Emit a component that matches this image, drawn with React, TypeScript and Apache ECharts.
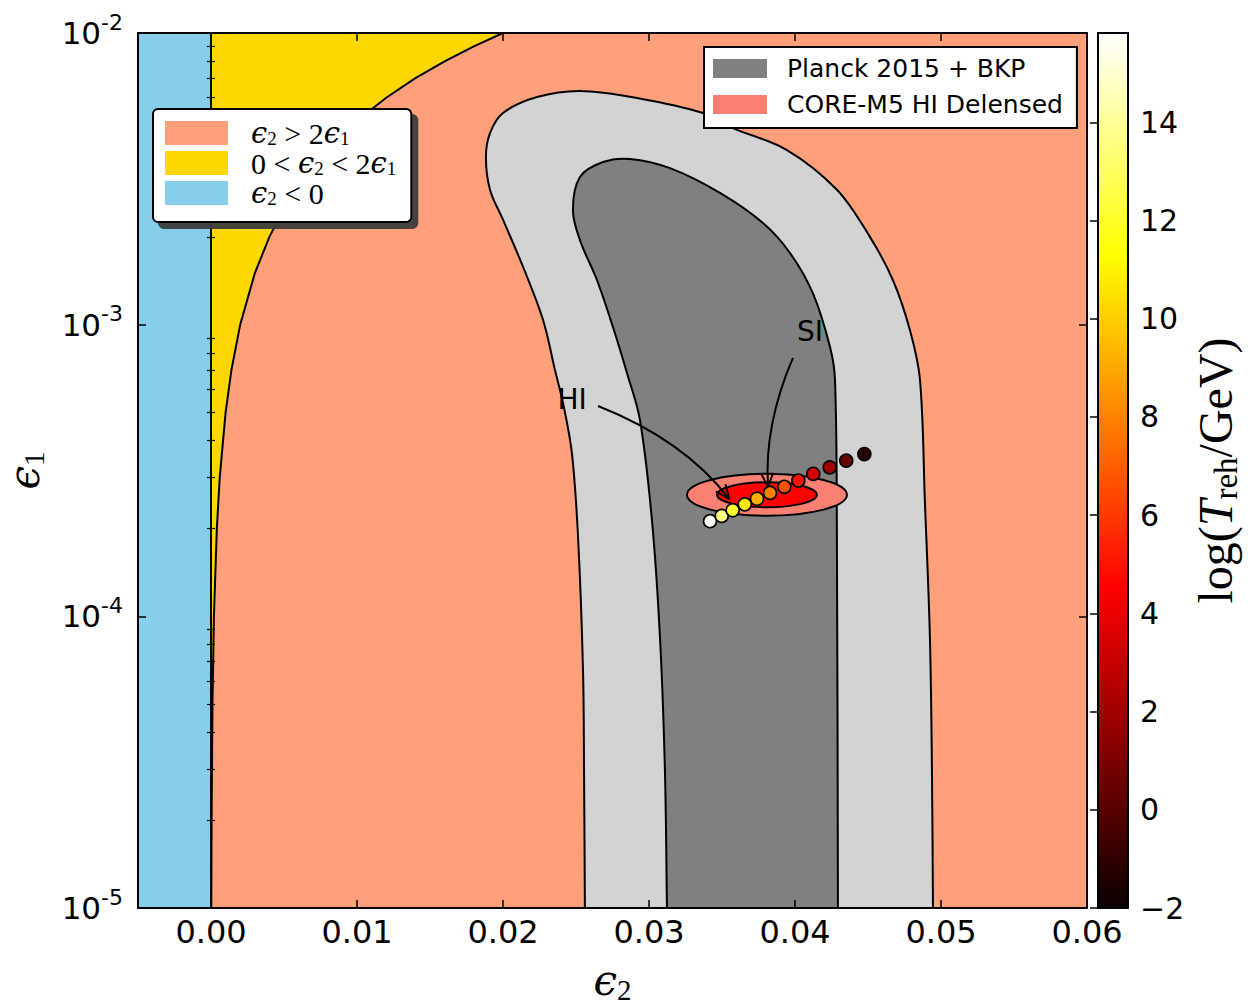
import React, { useEffect, useRef } from "react";
import * as echarts from "echarts";

// ---------- axes ----------
const X_RANGE = [-0.005, 0.06];
const Y_RANGE = [1e-5, 1e-2];
const CB_RANGE = [-2, 15.82];

const xTickValues = [0, 0.01, 0.02, 0.03, 0.04, 0.05, 0.06];
const yMajorTickValues = [1e-5, 1e-4, 1e-3, 1e-2];
const yMinorTickValues = [
  2e-5, 3e-5, 4e-5, 5e-5, 6e-5, 7e-5, 8e-5, 9e-5,
  2e-4, 3e-4, 4e-4, 5e-4, 6e-4, 7e-4, 8e-4, 9e-4,
  2e-3, 3e-3, 4e-3, 5e-3, 6e-3, 7e-3, 8e-3, 9e-3,
];
const cbTickValues = [-2, 0, 2, 4, 6, 8, 10, 12, 14];

// ---------- region boundary eps2 = 2 eps1 ----------
const boundaryEps2 = [0.02, 0.018, 0.016, 0.014, 0.012, 0.01, 0.008, 0.006, 0.005, 0.004, 0.003, 0.002, 0.0014, 0.001, 0.0006, 0.0004, 0.0002, 0.0001, 0.00004, 0.00002];
const boundaryEps1 = [0.01, 0.009, 0.008, 0.007, 0.006, 0.005, 0.004, 0.003, 0.0025, 0.002, 0.0015, 0.001, 0.0007, 0.0005, 0.0003, 0.0002, 0.0001, 0.00005, 0.00002, 0.00001];

// ---------- Planck 2015 + BKP contours (eps2, eps1) ----------
const planck95 = [
  [0.02561, 1.0e-5], [0.02561, 1.0e-5],
  [0.02555, 2.97e-5], [0.02548, 6.55e-5], [0.02514, 1.87e-4], [0.02472, 3.63e-4],
  [0.02411, 5.39e-4], [0.02356, 6.99e-4], [0.02274, 1.04e-3], [0.02137, 1.58e-3],
  [0.0200, 2.29e-3], [0.01911, 2.9e-3], [0.01883, 3.76e-3], [0.01911, 4.54e-3],
  [0.0200, 5.32e-3], [0.02233, 6.03e-3], [0.02527, 6.33e-3], [0.02918, 5.99e-3],
  [0.0337, 5.32e-3], [0.03575, 4.72e-3], [0.03945, 3.97e-3], [0.04287, 2.9e-3],
  [0.04513, 2.0e-3], [0.04671, 1.42e-3], [0.04787, 9.58e-4], [0.04856, 6.46e-4],
  [0.0489, 2.45e-4], [0.04924, 8.5e-5], [0.04938, 2.97e-5],
  [0.04945, 1.0e-5], [0.04945, 1.0e-5],
];
const planck68 = [
  [0.03123, 1.0e-5], [0.03123, 1.0e-5],
  [0.03109, 2.97e-5], [0.03075, 8.5e-5], [0.0302, 2.14e-4], [0.02938, 4.71e-4],
  [0.02849, 6.83e-4], [0.02753, 9.82e-4], [0.02644, 1.42e-3], [0.02527, 1.95e-3],
  [0.02479, 2.47e-3], [0.02527, 3.21e-3], [0.02685, 3.61e-3], [0.0287, 3.7e-3],
  [0.03144, 3.44e-3], [0.03486, 2.83e-3], [0.03781, 2.23e-3], [0.03966, 1.76e-3],
  [0.04123, 1.28e-3], [0.0424, 8.38e-4], [0.04274, 6.46e-4], [0.04287, 1.87e-4],
  [0.04294, 1.0e-5], [0.04294, 1.0e-5],
];

// ---------- CORE-M5 forecast ellipses ----------
const coreCenter = [0.03808, 2.61e-4];
const coreHalfWidth = [0.00548, 0.00342]; // outer, inner (in eps2)
const coreTop = [3.08e-4, 2.88e-4]; // outer, inner (eps1 at top edge)

// ---------- model points ----------
const modelEps2 = [0.03418, 0.03498, 0.03573, 0.03656, 0.0374, 0.03829, 0.03927, 0.04023, 0.04125, 0.04238, 0.04351, 0.04475];
const modelEps1 = [2.12e-4, 2.21e-4, 2.31e-4, 2.42e-4, 2.53e-4, 2.65e-4, 2.78e-4, 2.92e-4, 3.08e-4, 3.24e-4, 3.42e-4, 3.6e-4];
const modelLogTreh = [15.7, 13.6, 12.1, 10.7, 9.2, 7.9, 6.6, 5.0, 3.4, 1.9, 0.4, -1.3];

// ---------- annotations ----------
const annLabels = ["HI", "SI"];
const annTextPos = [[0.02473, 5.56e-4], [0.04103, 9.51e-4]];
const annStart = [[0.02651, 5.26e-4], [0.03986, 7.69e-4]];
const annCtrl = [[0.0324, 4.02e-4], [0.03788, 4.53e-4]];
const annEnd = [[0.03548, 2.53e-4], [0.03815, 2.78e-4]];

// ---------- names ----------
const NAME_GT = "ϵ₂ > 2ϵ₁";
const NAME_MID = "0 < ϵ₂ < 2ϵ₁";
const NAME_NEG = "ϵ₂ < 0";
const NAME_PLANCK = "Planck 2015 + BKP";
const NAME_CORE = "CORE-M5 HI Delensed";

const SANS = "'DejaVu Sans', sans-serif";
const SERIF = "'DejaVu Serif', 'Liberation Serif', serif";
const ROMAN = "'Liberation Serif', 'DejaVu Serif', serif";

const HOT_STOPS = [
  { offset: 0, color: "rgb(11,0,0)" },
  { offset: 0.365079, color: "rgb(255,0,0)" },
  { offset: 0.746032, color: "rgb(255,255,0)" },
  { offset: 1, color: "rgb(255,255,255)" },
];

function hotColor(v: number): string {
  let t = (v - CB_RANGE[0]) / (CB_RANGE[1] - CB_RANGE[0]);
  t = Math.max(0, Math.min(1, t));
  const a = 0.365079, b = 0.746032;
  const r = t < a ? 0.0416 + (1 - 0.0416) * (t / a) : 1;
  const g = t < a ? 0 : t < b ? (t - a) / (b - a) : 1;
  const bl = t < b ? 0 : (t - b) / (1 - b);
  return `rgb(${Math.round(r * 255)},${Math.round(g * 255)},${Math.round(bl * 255)})`;
}

function buildOption(): any {
  const majorTick = { show: true, inside: true, length: 8, lineStyle: { color: "#000", width: 1.5 } };
  const minorTick = { show: true, inside: true, length: 4, lineStyle: { color: "#000", width: 1.2 } };
  const frameLine = { show: true, onZero: false, lineStyle: { color: "#000", width: 2 } };

  const mathRich = {
    i: { fontFamily: SERIF, fontStyle: "italic", fontSize: 29, lineHeight: 24, color: "#000" },
    n: { fontFamily: ROMAN, fontSize: 30, lineHeight: 24, color: "#000" },
    s: { fontFamily: ROMAN, fontSize: 19, height: 14, lineHeight: 2, verticalAlign: "bottom", color: "#000" },
  };
  const legendFormat: Record<string, string> = {
    [NAME_GT]: "{i|ϵ}{s|2}{n| > 2}{i|ϵ}{s|1}",
    [NAME_MID]: "{n|0 < }{i|ϵ}{s|2}{n| < 2}{i|ϵ}{s|1}",
    [NAME_NEG]: "{i|ϵ}{s|2}{n| < 0}",
  };
  const axisNameRich = {
    i: { fontFamily: SERIF, fontStyle: "italic", fontSize: 42, lineHeight: 36, color: "#000" },
    s: { fontFamily: ROMAN, fontSize: 29, height: 16, lineHeight: 4, verticalAlign: "bottom", color: "#000" },
  };

  const yLog = (extra: any) => ({
    gridIndex: 0,
    type: "log",
    logBase: 10,
    min: Y_RANGE[0],
    max: Y_RANGE[1],
    splitLine: { show: false },
    z: 10,
    ...extra,
  });

  return {
    animation: false,
    backgroundColor: "#fff",
    grid: [
      { left: 138, top: 33, width: 949, height: 875, outerBoundsMode: "none", containLabel: false },
      { left: 1098, top: 33, width: 30, height: 875, outerBoundsMode: "none", containLabel: false },
    ],
    legend: [
      {
        data: [NAME_GT, NAME_MID, NAME_NEG],
        orient: "vertical",
        left: 153,
        top: 109,
        padding: [9, 15, 14, 12],
        itemWidth: 63,
        itemHeight: 24,
        itemGap: 0,
        icon: "rect",
        selectedMode: false,
        backgroundColor: "#fff",
        borderColor: "#000",
        borderWidth: 2,
        borderRadius: 5,
        shadowColor: "rgba(60,60,60,0.95)",
        shadowBlur: 0,
        shadowOffsetX: 6,
        shadowOffsetY: 6,
        itemStyle: { borderWidth: 0 },
        formatter: (name: string) => legendFormat[name] || name,
        textStyle: { padding: [0, 0, 0, 18], lineHeight: 24, fontSize: 24, rich: mathRich },
        z: 20,
      },
      {
        data: [NAME_PLANCK, NAME_CORE],
        orient: "vertical",
        left: 704,
        top: 47,
        padding: [9, 14, 11, 9],
        itemWidth: 54,
        itemHeight: 19,
        itemGap: 11,
        icon: "rect",
        selectedMode: false,
        backgroundColor: "#fff",
        borderColor: "#000",
        borderWidth: 2,
        borderRadius: 0,
        itemStyle: { borderWidth: 0 },
        textStyle: { fontFamily: SANS, fontSize: 25, color: "#000", padding: [0, 0, 0, 15], lineHeight: 25 },
        z: 20,
      },
    ],
    xAxis: [
      {
        gridIndex: 0,
        type: "value",
        position: "bottom",
        min: X_RANGE[0],
        max: X_RANGE[1],
        axisLine: frameLine,
        axisTick: { ...majorTick, customValues: xTickValues },
        axisLabel: {
          customValues: xTickValues,
          formatter: (v: number) => v.toFixed(2),
          fontFamily: SANS,
          fontSize: 32,
          color: "#000",
          margin: 8,
        },
        splitLine: { show: false },
        name: "{i|ϵ}{s|2}",
        nameLocation: "middle",
        nameGap: 54,
        nameTextStyle: { rich: axisNameRich },
        z: 10,
      },
      {
        gridIndex: 0,
        type: "value",
        position: "top",
        min: X_RANGE[0],
        max: X_RANGE[1],
        axisLine: frameLine,
        axisTick: { ...majorTick, customValues: xTickValues },
        axisLabel: { show: false },
        splitLine: { show: false },
        z: 10,
      },
      { gridIndex: 1, type: "value", min: 0, max: 1, show: false },
    ],
    yAxis: [
      yLog({
        position: "left",
        axisLine: frameLine,
        axisTick: { ...majorTick, customValues: yMajorTickValues },
        axisLabel: {
          customValues: yMajorTickValues,
          formatter: (v: number) => `{b|10}{e|${Math.round(Math.log10(v))}}`,
          margin: 15,
          rich: {
            b: { fontFamily: SANS, fontSize: 31, lineHeight: 36, color: "#000" },
            e: { fontFamily: SANS, fontSize: 22, height: 14, lineHeight: 14, verticalAlign: "top", color: "#000" },
          },
        },
        name: "{i|ϵ}{s|1}",
        nameLocation: "middle",
        nameRotate: 90,
        nameGap: 96,
        nameTextStyle: { rich: axisNameRich },
      }),
      yLog({
        position: "left",
        axisLine: { show: false },
        axisTick: { ...minorTick, customValues: yMinorTickValues },
        axisLabel: { show: false },
      }),
      yLog({
        position: "right",
        axisLine: frameLine,
        axisTick: { ...majorTick, customValues: yMajorTickValues },
        axisLabel: { show: false },
      }),
      yLog({
        position: "right",
        axisLine: { show: false },
        axisTick: { ...minorTick, customValues: yMinorTickValues },
        axisLabel: { show: false },
      }),
      {
        gridIndex: 1,
        type: "value",
        position: "right",
        min: CB_RANGE[0],
        max: CB_RANGE[1],
        axisLine: { show: false },
        axisTick: { ...majorTick, customValues: cbTickValues },
        axisLabel: {
          customValues: cbTickValues,
          formatter: (v: number) => (v < 0 ? "\u2212" + Math.abs(v) : String(v)),
          fontFamily: SANS,
          fontSize: 30,
          color: "#000",
          margin: 12,
        },
        splitLine: { show: false },
        name: "{n|log(}{i|T}{s|reh}{n|/GeV)}",
        nameLocation: "middle",
        nameRotate: 90,
        nameGap: 66,
        nameTextStyle: {
          rich: {
            n: { fontFamily: ROMAN, fontSize: 48, lineHeight: 42, color: "#000" },
            i: { fontFamily: ROMAN, fontStyle: "italic", fontSize: 48, lineHeight: 42, color: "#000" },
            s: { fontFamily: ROMAN, fontSize: 33, height: 20, lineHeight: 12, verticalAlign: "bottom", color: "#000" },
          },
        },
        z: 10,
      },
    ],
    series: [
      {
        name: NAME_GT,
        type: "custom",
        xAxisIndex: 0,
        yAxisIndex: 0,
        clip: true,
        z: 1,
        itemStyle: { color: "#FFA07A", borderWidth: 0 },
        data: [[0.03, 1e-3]],
        renderItem: (_p: any, api: any) => {
          const a = api.coord([X_RANGE[0], Y_RANGE[1]]);
          const b = api.coord([X_RANGE[1], Y_RANGE[0]]);
          return {
            type: "rect",
            shape: { x: a[0], y: a[1], width: b[0] - a[0], height: b[1] - a[1] },
            style: { fill: "#FFA07A" },
          };
        },
      },
      {
        name: NAME_MID,
        type: "custom",
        xAxisIndex: 0,
        yAxisIndex: 0,
        clip: true,
        z: 2,
        itemStyle: { color: "#FFD700", borderWidth: 0 },
        data: [[0.03, 1e-3]],
        renderItem: (_p: any, api: any) => {
          const curve = boundaryEps2.map((x, i) => api.coord([x, boundaryEps1[i]]));
          const poly = [api.coord([0, Y_RANGE[0]]), api.coord([0, Y_RANGE[1]]), ...curve];
          return {
            type: "group",
            children: [
              { type: "polygon", shape: { points: poly }, style: { fill: "#FFD700" } },
              { type: "polyline", shape: { points: curve }, style: { fill: null, stroke: "#000", lineWidth: 2 } },
            ],
          };
        },
      },
      {
        name: NAME_NEG,
        type: "custom",
        xAxisIndex: 0,
        yAxisIndex: 0,
        clip: true,
        z: 3,
        itemStyle: { color: "#87CEEB", borderWidth: 0 },
        data: [[0.03, 1e-3]],
        renderItem: (_p: any, api: any) => {
          const a = api.coord([X_RANGE[0], Y_RANGE[1]]);
          const b = api.coord([0, Y_RANGE[0]]);
          return {
            type: "group",
            children: [
              {
                type: "rect",
                shape: { x: a[0], y: a[1], width: b[0] - a[0], height: b[1] - a[1] },
                style: { fill: "#87CEEB" },
              },
              {
                type: "line",
                shape: { x1: b[0], y1: a[1], x2: b[0], y2: b[1] },
                style: { stroke: "#000", lineWidth: 2 },
              },
            ],
          };
        },
      },
      {
        name: NAME_PLANCK,
        type: "custom",
        xAxisIndex: 0,
        yAxisIndex: 0,
        clip: true,
        z: 4,
        itemStyle: { color: "#808080", borderWidth: 0 },
        data: [[0.03, 1e-3]],
        renderItem: (_p: any, api: any) => {
          const outer = planck95.map((p) => api.coord(p));
          const inner = planck68.map((p) => api.coord(p));
          return {
            type: "group",
            children: [
              { type: "polygon", shape: { points: outer, smooth: 0.35 }, style: { fill: "#D3D3D3", stroke: "#000", lineWidth: 2 } },
              { type: "polygon", shape: { points: inner, smooth: 0.35 }, style: { fill: "#808080", stroke: "#000", lineWidth: 2 } },
            ],
          };
        },
      },
      {
        name: NAME_CORE,
        type: "custom",
        xAxisIndex: 0,
        yAxisIndex: 0,
        clip: true,
        z: 5,
        itemStyle: { color: "#FA8072", borderWidth: 0 },
        data: [[0.03, 1e-3]],
        renderItem: (_p: any, api: any) => {
          const c = api.coord(coreCenter);
          const fills = ["#FA8072", "#FF0000"];
          return {
            type: "group",
            children: coreHalfWidth.map((hw, k) => {
              const e = api.coord([coreCenter[0] + hw, coreCenter[1]]);
              const t = api.coord([coreCenter[0], coreTop[k]]);
              return {
                type: "ellipse",
                shape: { cx: c[0], cy: c[1], rx: e[0] - c[0], ry: c[1] - t[1] },
                style: { fill: fills[k], stroke: "#000", lineWidth: 2 },
              };
            }),
          };
        },
      },
      {
        type: "custom",
        xAxisIndex: 0,
        yAxisIndex: 0,
        z: 6,
        data: [[0.03, 1e-3]],
        renderItem: (_p: any, api: any) => {
          const children: any[] = [];
          annLabels.forEach((lab, k) => {
            const tp = api.coord(annTextPos[k]);
            const s = api.coord(annStart[k]);
            const c = api.coord(annCtrl[k]);
            const e = api.coord(annEnd[k]);
            children.push({
              type: "text",
              x: tp[0],
              y: tp[1],
              style: { text: lab, fontFamily: SANS, fontSize: 28, fill: "#000", align: "center", verticalAlign: "middle" },
            });
            children.push({
              type: "bezierCurve",
              shape: { x1: s[0], y1: s[1], cpx1: c[0], cpy1: c[1], x2: e[0], y2: e[1] },
              style: { fill: null, stroke: "#000", lineWidth: 2 },
            });
            const dx = c[0] - e[0], dy = c[1] - e[1];
            const len = Math.hypot(dx, dy) || 1;
            const ux = dx / len, uy = dy / len;
            const L = 15, ang = (24 * Math.PI) / 180;
            const rot = (x: number, y: number, a: number) => [x * Math.cos(a) - y * Math.sin(a), x * Math.sin(a) + y * Math.cos(a)];
            const r1 = rot(ux, uy, ang), r2 = rot(ux, uy, -ang);
            children.push({
              type: "polyline",
              shape: { points: [[e[0] + r1[0] * L, e[1] + r1[1] * L], [e[0], e[1]], [e[0] + r2[0] * L, e[1] + r2[1] * L]] },
              style: { fill: null, stroke: "#000", lineWidth: 2 },
            });
          });
          return { type: "group", children };
        },
      },
      {
        type: "scatter",
        xAxisIndex: 0,
        yAxisIndex: 0,
        z: 8,
        symbol: "circle",
        symbolSize: 13,
        data: modelEps2.map((x, i) => [x, modelEps1[i], modelLogTreh[i]]),
        itemStyle: {
          color: (p: any) => hotColor(p.value[2]),
          borderColor: "#000",
          borderWidth: 1.6,
          opacity: 1,
        },
      },
      {
        type: "custom",
        xAxisIndex: 2,
        yAxisIndex: 4,
        z: 2,
        data: [[0.5, 5]],
        renderItem: (_p: any, api: any) => {
          const a = api.coord([0, CB_RANGE[1]]);
          const b = api.coord([1, CB_RANGE[0]]);
          return {
            type: "rect",
            shape: { x: a[0], y: a[1], width: b[0] - a[0], height: b[1] - a[1] },
            style: {
              fill: { type: "linear", x: 0, y: 1, x2: 0, y2: 0, colorStops: HOT_STOPS },
              stroke: "#000",
              lineWidth: 2,
            },
          };
        },
      },
    ],
  };
}

export default function App() {
  const ref = useRef<HTMLDivElement>(null);
  useEffect(() => {
    if (!ref.current) return;
    const chart = echarts.init(ref.current, null, { renderer: "svg" });
    chart.setOption(buildOption());
    return () => chart.dispose();
  }, []);
  return (
    <div
      ref={ref}
      style={{ position: "absolute", left: 0, top: 0, width: 1248, height: 1006, background: "#fff" }}
    />
  );
}
